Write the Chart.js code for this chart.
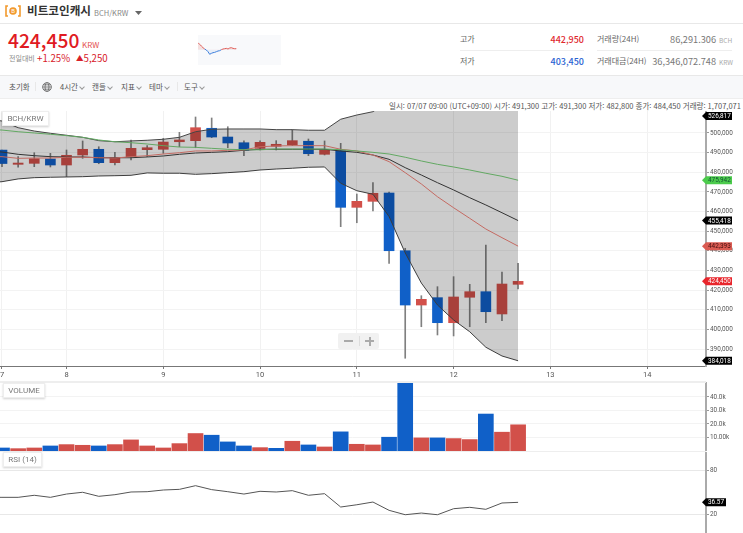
<!DOCTYPE html>
<html lang="ko">
<head>
<meta charset="utf-8">
<title>BCH/KRW</title>
<script src="https://cdn.jsdelivr.net/npm/chart.js@4/dist/chart.umd.min.js"></script>
<style>
html, body { margin: 0; padding: 0; background: #fff; overflow: hidden; }
#page { position: relative; width: 743px; height: 533px; overflow: hidden; font-family: "Noto Sans CJK KR", "Noto Sans", sans-serif; color: #555; }
#page div, #page span.abs, #page canvas, #page svg.abs { position: absolute; }
.t { position: absolute; white-space: nowrap; line-height: 1; }
.r { text-align: right; }
.line { background: #e8e8e8; }
.chev { width: 3px; height: 3px; border-right: 1px solid #999; border-bottom: 1px solid #999; transform: rotate(45deg); }
.tag { background: #fff; border: 1px solid #eee; box-shadow: 0 1px 2px rgba(0,0,0,.18); color: #777; font-size: 8px; font-family: Roboto, sans-serif; text-align: center; height: 13px; line-height: 13px; }
</style>
</head>
<body>
<div id="page">
	<!-- title row -->
	<svg class="abs" style="left:5px;top:5px" width="16" height="12" viewBox="0 0 16 12">
		<path d="M3 1H1V11H3M13 1H15V11H13" fill="none" stroke="#f29a2e" stroke-width="1.6"/>
		<circle cx="8" cy="6" r="3.8" fill="#f29a2e"/>
		<text x="8" y="8.2" font-size="6" fill="#fff" text-anchor="middle" font-family="Roboto">B</text>
	</svg>
	<div class="t" style="left:27px;top:5px;font-size:11.6px;font-weight:700;color:#333">비트코인캐시</div>
	<div class="t" style="left:94px;top:9px;font-size:7.5px;color:#888">BCH/KRW</div>
	<svg class="abs" style="left:135px;top:11px" width="8" height="4"><path d="M0 0H7L3.5 4Z" fill="#666"/></svg>
	<div class="line" style="left:0;top:23px;width:743px;height:1px"></div>

	<!-- current price -->
	<div class="t" style="left:8px;top:31px;font-size:19.2px;font-weight:500;color:#e01a22">424,450</div>
	<div class="t" style="left:82px;top:41px;font-size:8px;color:#e4504f">KRW</div>
	<div class="t" style="left:9px;top:55px;font-size:7px;color:#888">전일대비</div>
	<div class="t" style="left:37px;top:54px;font-size:9.7px;color:#d8202a">+1.25%</div>
	<div class="t" style="left:76px;top:54px;font-size:9.7px;color:#d8202a"><span style="font-size:7.5px;vertical-align:1px">▲</span>5,250</div>
	<div style="left:198px;top:35px;width:83px;height:30px;background:#f8f9fb"></div>
	<canvas id="sparkChart" width="83" height="30" style="left:198px;top:35px"></canvas>

	<!-- 24h stats -->
	<div class="t" style="left:460px;top:35px;font-size:8px;color:#666">고가</div>
	<div class="t r" style="left:530px;top:35px;font-size:9px;font-weight:500;color:#e0282e;width:54px">442,950</div>
	<div class="t" style="left:597px;top:35px;font-size:8px;color:#666">거래량(24H)</div>
	<div class="t r" style="left:640px;width:76px;top:35px;font-size:9.2px;color:#777">86,291.306</div>
	<div class="t" style="left:719px;top:37px;font-size:6.5px;color:#aaa">BCH</div>
	<div class="line" style="left:460px;top:50px;width:124px;height:1px;background:#eee"></div>
	<div class="line" style="left:597px;top:50px;width:135px;height:1px;background:#eee"></div>
	<div class="t" style="left:460px;top:57px;font-size:8px;color:#666">저가</div>
	<div class="t r" style="left:530px;width:54px;top:57px;font-size:9px;font-weight:500;color:#2a62d2">403,450</div>
	<div class="t" style="left:597px;top:57px;font-size:8px;color:#666">거래대금(24H)</div>
	<div class="t r" style="left:640px;width:76px;top:57px;font-size:9.2px;color:#777">36,346,072.748</div>
	<div class="t" style="left:719px;top:59px;font-size:6.5px;color:#aaa">KRW</div>

	<!-- toolbar -->
	<div style="left:0;top:75px;width:743px;height:24px;background:#f7f8fa;border-top:1px solid #e8e8e8;border-bottom:1px solid #eee;box-sizing:border-box"></div>
	<div class="t" style="left:9px;top:83px;font-size:7.5px">초기화</div>
	<div class="line" style="left:35px;top:82px;width:1px;height:9px"></div>
	<svg class="abs" style="left:42px;top:82px" width="10" height="10" viewBox="0 0 10 10" fill="none" stroke="#666" stroke-width=".8">
		<circle cx="5" cy="5" r="4.4"/><ellipse cx="5" cy="5" rx="2" ry="4.4"/><path d="M.6 5H9.4M1.3 2.8H8.7M1.3 7.2H8.7"/>
	</svg>
	<div class="t" style="left:60px;top:83px;font-size:7.5px">4시간</div><div class="chev" style="left:80px;top:85px"></div>
	<div class="t" style="left:92px;top:83px;font-size:7.5px">캔들</div><div class="chev" style="left:108px;top:85px"></div>
	<div class="t" style="left:121px;top:83px;font-size:7.5px">지표</div><div class="chev" style="left:137px;top:85px"></div>
	<div class="t" style="left:149px;top:83px;font-size:7.5px">테마</div><div class="chev" style="left:165px;top:85px"></div>
	<div class="line" style="left:177px;top:82px;width:1px;height:9px"></div>
	<div class="t" style="left:184px;top:83px;font-size:7.5px">도구</div><div class="chev" style="left:200px;top:85px"></div>

	<!-- chart panels -->
	<canvas id="priceChart" width="743" height="270" style="left:0;top:111px"></canvas>
	<canvas id="volumeChart" width="743" height="69" style="left:0;top:382px"></canvas>
	<canvas id="rsiChart" width="743" height="81" style="left:0;top:452px"></canvas>
	<div class="line" style="left:0;top:381px;width:706px;height:2px;background:#eee"></div>
	<div class="line" style="left:0;top:451px;width:706px;height:1px;background:#eee"></div>

	<div class="t" style="left:389px;top:102px;font-size:7.5px;color:#555">일시: 07/07 09:00 (UTC+09:00) 시가: 491,300 고가: 491,300 저가: 482,800 종가: 484,450 거래량: 1,707,071</div>

	<div class="tag" style="left:2px;top:111px;width:45px">BCH/KRW</div>
	<div class="tag" style="left:3px;top:383px;width:40px">VOLUME</div>
	<div class="tag" style="left:3px;top:452px;width:37px">RSI (14)</div>

	<!-- zoom control -->
	<div style="left:338px;top:333px;width:41px;height:16px;background:#f1f1f1;border-radius:2px"></div>
	<div style="left:344px;top:340px;width:9px;height:2px;background:#aaa"></div>
	<div style="left:359px;top:336px;width:1px;height:10px;background:#ddd"></div>
	<div style="left:365px;top:340px;width:9px;height:2px;background:#aaa"></div>
	<div style="left:368.5px;top:336.5px;width:2px;height:9px;background:#aaa"></div>
</div>

<script>
// candles, oldest first (4h)
var opens  = [491300,484050,484550,486750,483700,488800,491700,484900,487950,491500,491700,495550,496100,502400,497950,495050,492200,493250,493900,495800,489150,491000,462150,465200,469450,440050,412400,416150,403400,416350,419200,407850,422950];
var highs  = [491300,487950,489950,489650,491350,495950,493000,490150,496450,493550,497300,500350,508150,507650,503200,495950,495950,496100,501700,496950,495950,494750,468950,474700,469950,441300,417150,421750,426850,422950,442950,429200,433650];
var lows   = [482800,482550,482850,482700,477750,487100,484350,483700,486250,487950,489650,493000,492500,497600,492500,488450,491350,491350,493550,488450,488800,452300,454300,460300,433650,385300,401350,397150,396650,401350,403450,404400,420550];
var closes = [484450,484700,486900,483700,488650,491700,484900,487400,492200,492500,495400,496450,502700,497950,494900,491200,495250,494250,496100,489450,491350,462150,465200,469300,440050,412400,415300,403400,416500,419200,409000,423100,424450];

// bollinger band and moving averages, these start one candle earlier so they run off the left edge
var bandUpper = [507200,506100,502700,501000,499850,498850,497800,496100,495550,495950,496300,496800,497800,500650,501900,502050,502050,502050,501700,501700,501400,501400,507000,509150,510850,516400,521300,523600,525000,525900,526300,526600,526750,526817];
var bandLower = [474600,475200,476600,477250,477450,477600,477750,478100,478250,478450,479650,479500,479500,478950,479300,479800,480300,481150,481650,482050,482550,482700,474400,470600,468800,457400,438900,423600,412400,404800,398800,390900,386450,384018];
var bandMiddle = [490900,490300,489150,488450,487950,487800,487800,487400,487400,487400,487800,488300,489150,489800,490150,490500,491200,491700,491700,491700,491700,491700,490850,490150,488800,486600,482350,478600,474700,471000,467050,463350,459400,455418];
var maShort = [487900,487950,487100,487250,487250,487650,487650,487400,487250,487950,488450,489300,489950,490850,490850,491200,491350,493000,493400,493550,493550,493550,491700,490850,488800,485400,479800,474050,467550,461950,456550,451100,446700,442393];
var maLong  = [501800,501500,500650,500000,499350,498650,497800,496450,495550,495050,494400,493550,492850,492700,492200,491700,491500,491450,491850,491850,491850,491850,491500,490850,490150,489300,487650,485750,484050,482700,481150,479500,477950,475942];

var volumes = [2240,1740,2240,3730,4730,4230,3730,4730,8210,3730,2240,5470,12940,11690,6720,3730,2490,1990,7220,4480,2990,14180,4980,4480,10200,53000,9700,9700,9200,8460,27370,13930,19400];
var volumeDown = [1,0,0,1,0,0,1,0,0,0,0,0,0,1,1,1,0,1,0,1,0,1,0,0,1,1,0,1,0,0,1,0,0];
var rsiValues = [43.6,43.4,43.4,46.2,43.4,47.9,50.3,44.8,47,50.7,51.1,53.4,54.3,59.3,53.9,51.1,47.9,51.6,50.7,52.5,46.2,48.4,30.2,33.3,37,25.7,19.7,22,19.7,27.9,29.8,27.1,35.7,36.57];

// mini chart next to the price
var sparkValues = [442950,437300,431600,425950,421400,418000,412300,403450,406600,408900,410000,412300,414600,415700,419100,421400,422500,423650,421400,424800,425950,423650,422500,422500];
var prevClose = 419200;

// tick lists, ascending because the scales expect that order
var dayLabels = ['7','8','9','10','11','12','13','14'];
var dayTickIndex = [0,4,10,16,22,28,34,40];
var priceTicks = [390000,400000,410000,420000,430000,440000,450000,460000,470000,480000,490000,500000];
var volumeTicks = [10000,20000,30000,40000];
var volumeTickLabels = ['10.00k','20.0k','30.0k','40.0k'];
var rsiTicks = [20,80];

var RED = '#d2504a', BLUE = '#1060c8';
var AXIS_WIDTH = 37;
var X_MIN = -0.124, X_MAX = 43.65;
var TICK_FONT = { family: 'Roboto, sans-serif', size: 6.4 };

// no room kept around the plot for half tick labels, panels run edge to edge
function fitY(scale) {
	scale.width = AXIS_WIDTH;
	scale.paddingTop = 0;
	scale.paddingBottom = 0;
}
function fitX(scale) {
	scale.height = 15;
	scale.paddingLeft = 0;
	scale.paddingRight = 0;
}
function fixedTicks(list) {
	return function(scale) { scale.ticks = list.map(function(v) { return { value: v }; }); };
}
function hiddenX() {
	return { type: 'linear', display: false, offset: false, min: X_MIN, max: X_MAX };
}
function yGrid() {
	return { color: '#f3f3f3', tickColor: '#999', tickLength: 3 };
}
function pts(list, first) {
	return list.map(function(v, i) { return { x: i + (first || 0), y: v }; });
}
function lineSet(list, color, order) {
	return { type: 'line', data: pts(list, -1), borderColor: color, borderWidth: 1, pointRadius: 0, tension: 0, fill: false, order: order };
}

// end-of-series price flags on the right axis
function flagPlugin(getFlags) {
	return {
		id: 'flags',
		afterDraw: function(chart) {
			var c = chart.ctx, area = chart.chartArea, sc = chart.scales.y;
			getFlags().forEach(function(f) {
				var y = Math.max(area.top + 5, Math.min(area.bottom - 5, sc.getPixelForValue(f.value)));
				var left = area.right - 4, w = f.width;
				c.save();
				c.fillStyle = f.bg;
				c.beginPath();
				c.moveTo(left, y);
				c.lineTo(left + 4, y - 4);
				c.lineTo(left + w, y - 4);
				c.lineTo(left + w, y + 4);
				c.lineTo(left + 4, y + 4);
				c.closePath();
				c.fill();
				c.fillStyle = f.fg;
				c.font = '6.4px Roboto, sans-serif';
				c.textBaseline = 'middle';
				c.fillText(f.text, left + 6, y + 0.5);
				c.restore();
			});
		}
	};
}

function money(v) { return Math.round(v).toLocaleString('en-US'); }
function lastOf(list) { return list[list.length - 1]; }

var priceFlags = [
	{ value: lastOf(bandUpper), bg: '#000', fg: '#fff' },
	{ value: lastOf(maLong), bg: '#4ccb4c', fg: '#153' },
	{ value: lastOf(bandMiddle), bg: '#000', fg: '#fff' },
	{ value: lastOf(maShort), bg: '#da5b52', fg: '#411' },
	{ value: lastOf(closes), bg: '#e8262c', fg: '#fff' },
	{ value: lastOf(bandLower), bg: '#000', fg: '#fff' }
].map(function(f) { f.text = money(f.value); f.width = 30; return f; });

var candleColors = closes.map(function(c, i) { return c >= opens[i] ? RED : BLUE; });

// the band fill sits over the candles, that is why they look darker inside it
new Chart(document.getElementById('priceChart'), {
	type: 'bar',
	data: {
		datasets: [
			lineSet(maLong, '#62a862', 0),
			lineSet(maShort, '#c46a62', 0),
			lineSet(bandMiddle, '#333', 0),
			{
				type: 'line', data: pts(bandUpper, -1), borderColor: '#444', borderWidth: 1, pointRadius: 0, tension: 0,
				fill: { target: '+1' }, backgroundColor: 'rgba(0,0,0,0.2)', order: 1
			},
			lineSet(bandLower, '#444', 1),
			{
				data: lows.map(function(l, i) { return { x: i, y: [l, highs[i]] }; }),
				backgroundColor: '#808080', barThickness: 1, grouped: false, order: 5
			},
			{
				data: opens.map(function(o, i) { return { x: i, y: [o, closes[i]] }; }),
				backgroundColor: candleColors, barThickness: 10, grouped: false, order: 4
			}
		]
	},
	options: {
		responsive: false,
		animation: false,
		layout: { padding: 0 },
		plugins: { legend: { display: false }, tooltip: { enabled: false } },
		scales: {
			x: {
				type: 'linear', offset: false, min: X_MIN, max: X_MAX,
				afterBuildTicks: fixedTicks(dayTickIndex),
				afterFit: fitX,
				border: { color: '#777' },
				grid: { offset: false, color: '#f1f1f1', tickColor: '#777', tickLength: 3 },
				ticks: {
					autoSkip: false, maxRotation: 0, padding: 2, color: '#555',
					font: { family: 'Roboto, sans-serif', size: 7.5 },
					callback: function(v) { return dayLabels[dayTickIndex.indexOf(v)]; }
				}
			},
			y: {
				position: 'right', min: 381354, max: 511200,
				afterBuildTicks: fixedTicks(priceTicks),
				afterFit: fitY,
				border: { color: '#aaa', width: 2 },
				grid: yGrid(),
				ticks: {
					autoSkip: false, padding: 1, color: '#555', font: TICK_FONT,
					callback: function(v) { return money(v); }
				}
			}
		}
	},
	plugins: [flagPlugin(function() { return priceFlags; })]
});

new Chart(document.getElementById('volumeChart'), {
	type: 'bar',
	data: {
		datasets: [{
			data: pts(volumes),
			backgroundColor: volumeDown.map(function(d) { return d ? BLUE : RED; }),
			barThickness: 15
		}]
	},
	options: {
		responsive: false,
		animation: false,
		layout: { padding: 0 },
		plugins: { legend: { display: false }, tooltip: { enabled: false } },
		scales: {
			x: hiddenX(),
			y: {
				position: 'right', min: 0, max: 51100,
				afterBuildTicks: fixedTicks(volumeTicks),
				afterFit: fitY,
				border: { color: '#aaa', width: 2 },
				grid: yGrid(),
				ticks: {
					autoSkip: false, padding: 1, color: '#555', font: TICK_FONT,
					callback: function(v) { return volumeTickLabels[volumeTicks.indexOf(v)]; }
				}
			}
		}
	}
});

new Chart(document.getElementById('rsiChart'), {
	type: 'line',
	data: { datasets: [lineSet(rsiValues, '#555', 0)] },
	options: {
		responsive: false,
		animation: false,
		layout: { padding: 0 },
		plugins: { legend: { display: false }, tooltip: { enabled: false } },
		scales: {
			x: hiddenX(),
			y: {
				position: 'right', min: -5.2, max: 105.2,
				afterBuildTicks: fixedTicks(rsiTicks),
				afterFit: fitY,
				border: { color: '#aaa', width: 2 },
				grid: { color: '#e8e8e8', tickColor: '#999', tickLength: 3 },
				ticks: { autoSkip: false, padding: 1, color: '#555', font: TICK_FONT }
			}
		}
	},
	plugins: [flagPlugin(function() {
		return [{ value: lastOf(rsiValues), bg: '#000', fg: '#fff', text: String(lastOf(rsiValues)), width: 24 }];
	})]
});

// red above yesterday's close, blue below
new Chart(document.getElementById('sparkChart'), {
	type: 'line',
	data: {
		datasets: [{
			data: pts(sparkValues),
			borderWidth: 1,
			pointRadius: 0,
			borderColor: '#e0605a',
			segment: {
				borderColor: function(ctx) { return ctx.p1.parsed.y < prevClose ? '#3f80dc' : '#e0605a'; }
			},
			fill: { target: { value: prevClose }, above: 'rgba(224,96,90,0.16)', below: 'rgba(63,128,220,0.08)' }
		}]
	},
	options: {
		responsive: false,
		animation: false,
		layout: { padding: 0 },
		plugins: { legend: { display: false }, tooltip: { enabled: false } },
		scales: {
			x: { type: 'linear', display: false, min: 0, max: 49.8 },
			y: { display: false, min: 367000, max: 469100 }
		}
	}
});
</script>
</body>
</html>
